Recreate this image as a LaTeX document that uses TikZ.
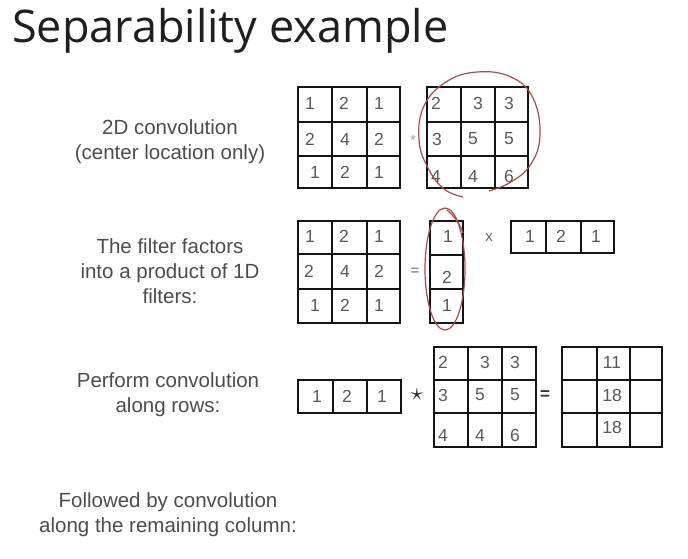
\documentclass[tikz,border=0pt]{standalone}
\usepackage{fontspec}
\setmainfont{Liberation Sans}
\newfontfamily\titlefont{Open Sans}
\definecolor{pen}{RGB}{178,72,72}
\begin{document}
\begin{tikzpicture}[x=1pt,y=-1pt,
 gridline/.style={line width=2.5pt, draw=black!92},
 num/.style={font=\fontsize{17.5}{17.5}\selectfont, text=black!65, inner sep=0pt},
 lbl/.style={font=\fontsize{20.5}{25}\selectfont, text=black!70, align=center, inner sep=0pt},
 op/.style={font=\fontsize{15}{15}\selectfont, text=black!60, inner sep=0pt},
 redmark/.style={draw=pen, line width=1.2pt}]
\useasboundingbox (0,0) rectangle (688,558);

% title
\node[anchor=base west, inner sep=0pt, font=\titlefont\fontsize{45}{45}\selectfont, text=black!88] (title) at (12,42) {Separability example};

% labels
\node[lbl] (l1) at (170,142) {2D convolution\\(center location only)};
\node[lbl] (l2) at (170,271) {The filter factors\\into a product of 1D\\filters:};
\node[lbl] (l3) at (168,395) {Perform convolution\\along rows:};
\node[lbl] (l4) at (168,515) {Followed by convolution\\along the remaining column:};

% ---- row 1: 2D convolution
\draw[gridline] (298,87) rectangle (400,188);
\draw[gridline] (332,87)--(332,188) (367,87)--(367,188) (298,122)--(400,122) (298,156)--(400,156);
\node[num] (a11) at (310,103) {1}; \node[num] (a12) at (344,103) {2}; \node[num] (a13) at (379,103) {1};
\node[num] (a21) at (310,139) {2}; \node[num] (a22) at (345,139) {4}; \node[num] (a23) at (379,139) {2};
\node[num] (a31) at (315,172) {1}; \node[num] (a32) at (345,172) {2}; \node[num] (a33) at (379,172) {1};

\node[op, text=black!35] (star1) at (413,140) {*};

\draw[gridline] (427,87) rectangle (528,188);
\draw[gridline] (461,87)--(461,188) (495,87)--(495,188) (427,122)--(528,122) (427,156)--(528,156);
\node[num] (b11) at (436,103) {2}; \node[num] (b12) at (478,103) {3}; \node[num] (b13) at (509,103) {3};
\node[num] (b21) at (437,139) {3}; \node[num] (b22) at (473,139) {5}; \node[num] (b23) at (509,139) {5};
\node[num] (b31) at (436,176) {4}; \node[num] (b32) at (473,176) {4}; \node[num] (b33) at (509,176) {6};

\draw[redmark] plot[smooth, tension=0.7] coordinates {(463,197) (444,189) (428,168) (419,140) (424,106) (446,82) (477,72) (511,77) (533,98) (540,135) (531,164) (511,182) (489,191)};

% ---- row 2: factorisation
\draw[gridline] (298,221) rectangle (400,323);
\draw[gridline] (332,221)--(332,323) (367,221)--(367,323) (298,254)--(400,254) (298,289)--(400,289);
\node[num] (c11) at (310,236) {1}; \node[num] (c12) at (344,236) {2}; \node[num] (c13) at (379,236) {1};
\node[num] (c21) at (309,271) {2}; \node[num] (c22) at (345,271) {4}; \node[num] (c23) at (379,271) {2};
\node[num] (c31) at (315,305) {1}; \node[num] (c32) at (345,305) {2}; \node[num] (c33) at (379,305) {1};

\node[op] (eq1) at (415,272) {=};

\draw[gridline] (430,221) rectangle (463,323);
\draw[gridline] (430,255)--(463,255) (430,289)--(463,289);
\node[num] (d1) at (448,236) {1}; \node[num] (d2) at (447,277) {2}; \node[num] (d3) at (447,305) {1};

\node[op] (times) at (489,238) {x};

\draw[gridline] (511,221) rectangle (614,253);
\draw[gridline] (546,221)--(546,253) (581,221)--(581,253);
\node[num] (e1) at (530,236) {1}; \node[num] (e2) at (561,236) {2}; \node[num] (e3) at (596,236) {1};

\draw[redmark] (445,269) ellipse [x radius=20, y radius=61];
\draw[redmark] (447,210) .. controls (455,217) and (460,224) .. (463,233);

% ---- row 3: convolution along rows
\draw[gridline] (298,380) rectangle (401,413);
\draw[gridline] (333,380)--(333,413) (367,380)--(367,413);
\node[num] (f1) at (317,396) {1}; \node[num] (f2) at (347,396) {2}; \node[num] (f3) at (382,396) {1};

\node[op, text=black!85, font=\fontsize{26}{26}\selectfont] (star2) at (417,395) {$\star$};

\draw[gridline] (434,347) rectangle (536,447);
\draw[gridline] (468,347)--(468,447) (502,347)--(502,447) (434,380)--(536,380) (434,413)--(536,413);
\node[num] (g11) at (443,362) {2}; \node[num] (g12) at (485,362) {3}; \node[num] (g13) at (515,362) {3};
\node[num] (g21) at (443,395) {3}; \node[num] (g22) at (480,395) {5}; \node[num] (g23) at (515,395) {5};
\node[num] (g31) at (443,435) {4}; \node[num] (g32) at (480,435) {4}; \node[num] (g33) at (515,435) {6};

\node[op, font=\bfseries\fontsize{17}{17}\selectfont, text=black!80] (eq2) at (545,395) {=};

\draw[gridline] (562,347) rectangle (662,447);
\draw[gridline] (597,347)--(597,447) (630,347)--(630,447) (562,380)--(662,380) (562,413)--(662,413);
\node[num] (h1) at (612,362) {11}; \node[num] (h2) at (612,395) {18}; \node[num] (h3) at (612,427) {18};
\end{tikzpicture}
\end{document}
